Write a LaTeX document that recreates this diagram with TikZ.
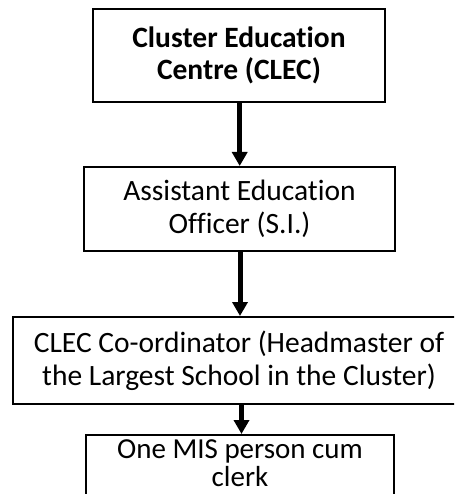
\documentclass[tikz,border=0pt]{standalone}
\usepackage{fontspec}
\setmainfont{Carlito}[Ligatures={NoCommon,NoContextual}]
\usetikzlibrary{arrows.meta}
\begin{document}
\begin{tikzpicture}[x=1pt,y=-1pt,
  box/.style={draw=black, line width=2pt, rectangle, inner sep=0pt, align=center,
    font=\fontsize{29.5}{32.5}\selectfont},
  conn/.style={line width=5pt, -{Triangle[width=15pt,length=14pt]}, shorten >=0pt}]
\useasboundingbox (0,0) rectangle (454,494);
\clip (0,0) rectangle (454,494);
\node[box, line width=2.6pt, minimum width=292pt, minimum height=93pt,
  font=\fontsize{29.5}{32.5}\selectfont\bfseries] (b1) at (239,55.5) {Cluster Education\\Centre (CLEC)};
\node[box, minimum width=311pt, minimum height=84pt] (b2) at (239.5,209) {Assistant Education\\Officer (S.I.)};
\node[box, minimum width=452pt, minimum height=87pt] (b3) at (239,360.5) {CLEC Co-ordinator (Headmaster of\\the Largest School in the Cluster)};
\node[box, minimum width=308pt, minimum height=80pt, anchor=north] (b4) at (240,434) {};
\node[box, draw=none, font=\fontsize{29}{27.5}\selectfont] (b4t) at (240,463) {One MIS person cum\\clerk};
\draw[conn] (b1.south -| 239.7,0) -- (b2.north -| 239.7,0);
\draw[conn] (b2.south -| 240,0) -- (b3.north -| 240,0);
\draw[conn] (b3.south -| 241.5,0) -- (b4.north -| 241.5,0);
\end{tikzpicture}
\end{document}
